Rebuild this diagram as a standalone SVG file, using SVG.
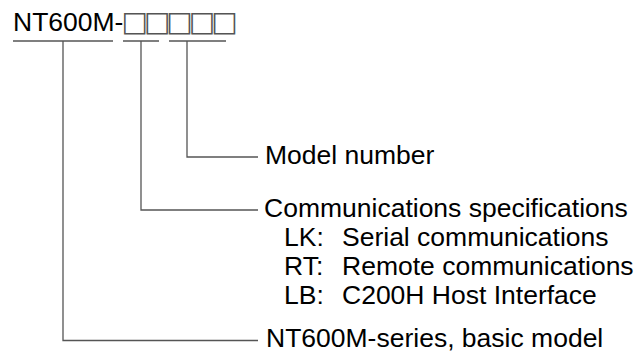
<svg xmlns="http://www.w3.org/2000/svg" width="635" height="352" viewBox="0 0 635 352">
<style>
.t{font-family:"Liberation Sans",Arial,sans-serif;font-size:26.5px;fill:#000}
.b{font-family:"DejaVu Sans",sans-serif;font-size:28px;fill:#555;letter-spacing:-4px}
.c{fill:none;stroke:#555;stroke-width:1.3}
</style>
<rect width="635" height="352" fill="#fff"/>
<g id="title">
<text class="t" x="13" y="31">NT600M-<tspan class="b" dx="-2">□□□□□</tspan></text>
</g>
<g id="connectors">
<path class="c" d="M13 41H113M123 41H159M169 41H226"/>
<path class="c" d="M63 41V340.5H258"/>
<path class="c" d="M141 41V210H258"/>
<path class="c" d="M187 41V157H258"/>
</g>
<g id="model-number">
<text class="t" x="265" y="164">Model number</text>
</g>
<g id="comm-spec">
<text class="t" x="264" y="217">Communications specifications</text>
<text class="t" x="284" y="246">LK:</text><text class="t" x="342" y="246">Serial communications</text>
<text class="t" x="284" y="275">RT:</text><text class="t" x="342" y="275">Remote communications</text>
<text class="t" x="284" y="304">LB:</text><text class="t" x="342" y="304">C200H Host Interface</text>
</g>
<g id="basic-model">
<text class="t" x="266" y="347">NT600M-series, basic model</text>
</g>
</svg>
